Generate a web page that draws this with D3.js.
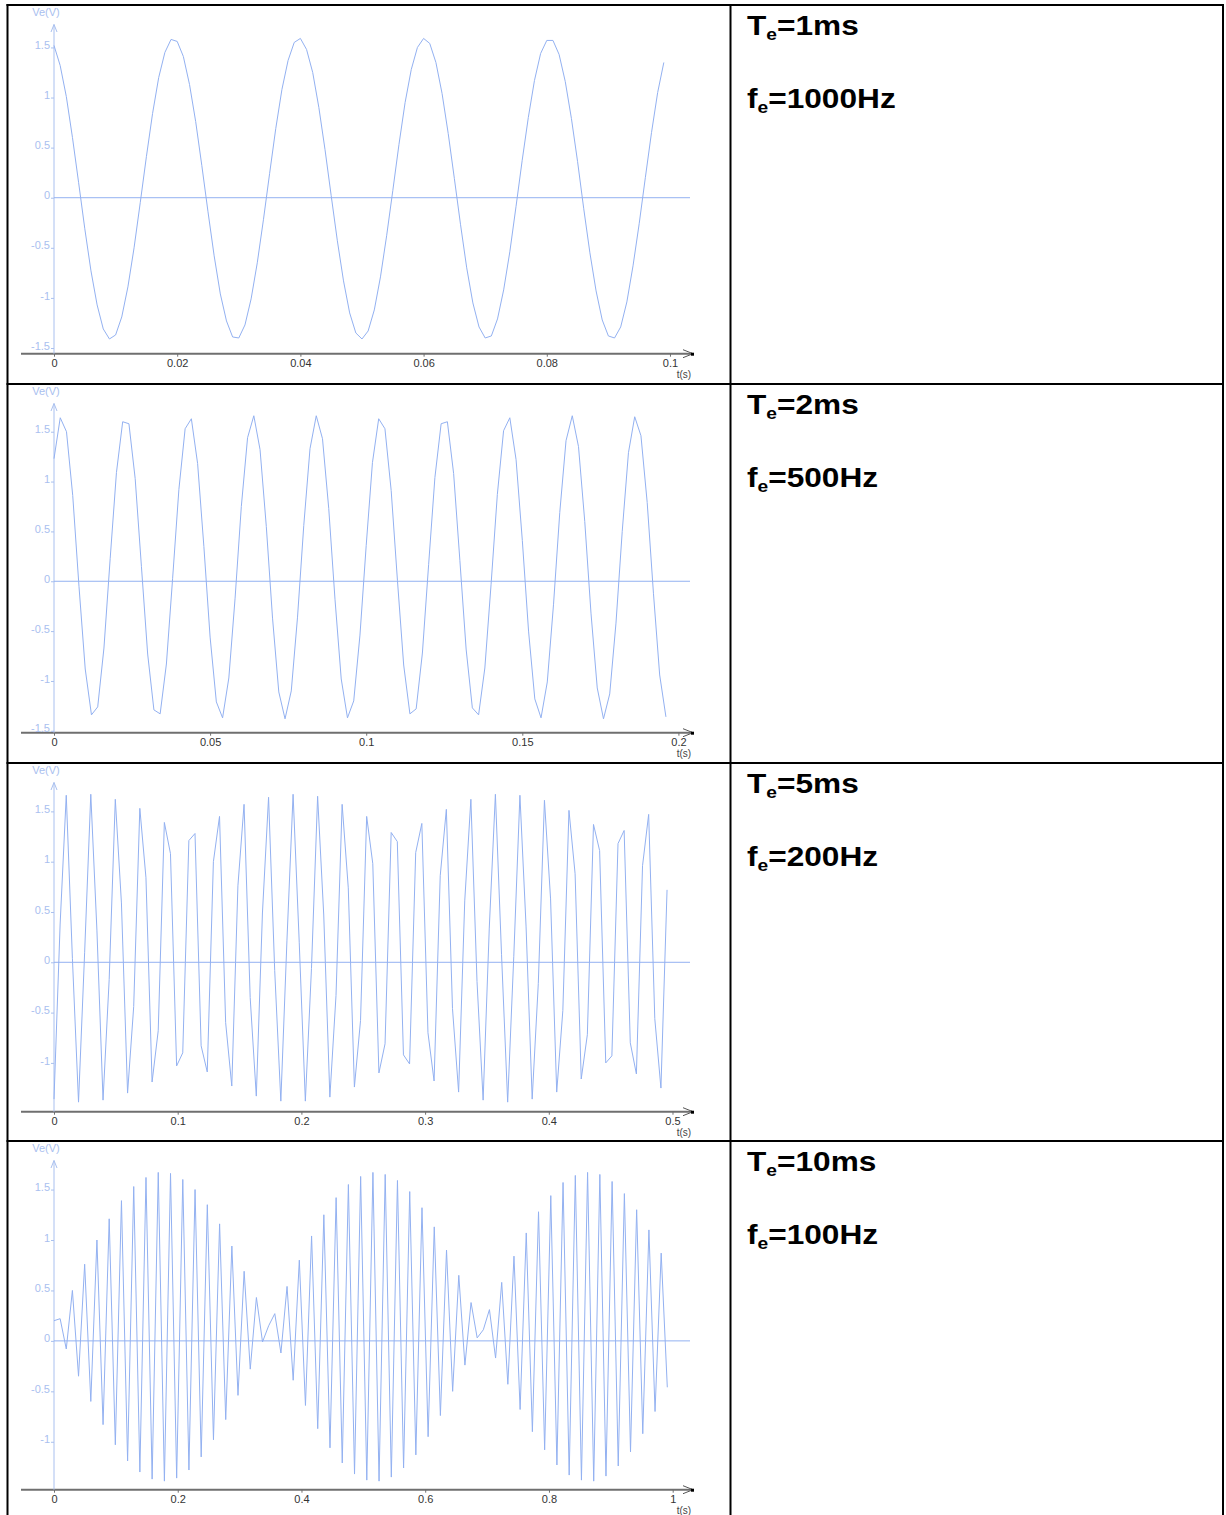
<!DOCTYPE html>
<html>
<head>
<meta charset="utf-8">
<script src="https://cdn.jsdelivr.net/npm/d3@7"></script>
<style>
  html, body { margin: 0; padding: 0; background: #fff; }
  svg { display: block; }
</style>
</head>
<body>
<svg id="main-svg" width="1226" height="1515"></svg>
<script>
// Ve(V) samples, one array per acquisition
var ve1 = [1.52,1.32,1.01,0.60,0.15,-0.31,-0.73,-1.07,-1.31,-1.41,
  -1.37,-1.19,-0.89,-0.50,-0.05,0.41,0.84,1.20,1.45,1.58,
  1.56,1.41,1.13,0.76,0.32,-0.14,-0.58,-0.96,-1.23,-1.39,
  -1.40,-1.27,-1.01,-0.65,-0.22,0.24,0.69,1.08,1.37,1.55,
  1.59,1.48,1.25,0.90,0.48,0.02,-0.43,-0.83,-1.15,-1.35,
  -1.41,-1.33,-1.12,-0.79,-0.38,0.07,0.53,0.95,1.28,1.50,
  1.59,1.54,1.35,1.04,0.64,0.19,-0.27,-0.70,-1.05,-1.29,
  -1.40,-1.38,-1.21,-0.92,-0.54,-0.09,0.37,0.80,1.17,1.44,
  1.57,1.57,1.43,1.16,0.79,0.36,-0.11,-0.55,-0.93,-1.22,
  -1.38,-1.40,-1.29,-1.04,-0.68,-0.26,0.20,0.65,1.05,1.35];

var ve2 = [1.23,1.64,1.50,0.86,-0.05,-0.88,-1.34,-1.26,-0.67,0.23,
  1.09,1.60,1.58,1.03,0.15,-0.73,-1.29,-1.33,-0.83,0.03,
  0.92,1.53,1.63,1.18,0.35,-0.56,-1.21,-1.37,-0.97,-0.17,
  0.75,1.44,1.66,1.32,0.55,-0.37,-1.11,-1.38,-1.10,-0.36,
  0.56,1.33,1.66,1.43,0.73,-0.18,-0.98,-1.37,-1.20,-0.54,
  0.36,1.19,1.63,1.53,0.91,0.01,-0.84,-1.33,-1.28,-0.72,
  0.17,1.04,1.58,1.60,1.08,0.21,-0.68,-1.27,-1.34,-0.87,
  -0.03,0.87,1.51,1.64,1.22,0.41,-0.50,-1.18,-1.37,-1.01,
  -0.23,0.69,1.41,1.66,1.35,0.60,-0.32,-1.07,-1.38,-1.13,
  -0.42,0.50,1.29,1.65,1.46,0.79,-0.12,-0.94,-1.36];

var ve3 = [-1.36,0.38,1.66,0.04,-1.39,0.10,1.67,0.32,-1.37,-0.17,
  1.62,0.59,-1.30,-0.44,1.53,0.84,-1.19,-0.68,1.39,1.08,
  -1.03,-0.90,1.21,1.28,-0.83,-1.09,1.00,1.45,-0.60,-1.23,
  0.76,1.57,-0.35,-1.33,0.49,1.64,-0.08,-1.38,0.22,1.67,
  0.20,-1.38,-0.06,1.65,0.47,-1.34,-0.33,1.57,0.74,-1.24,
  -0.58,1.45,0.98,-1.10,-0.81,1.29,1.20,-0.92,-1.01,1.09,
  1.38,-0.70,-1.18,0.86,1.52,-0.46,-1.29,0.61,1.62,-0.19,
  -1.37,0.34,1.67,0.08,-1.39,0.06,1.66,0.36,-1.36,-0.21,
  1.61,0.63,-1.29,-0.48,1.51,0.88,-1.16,-0.72,1.37,1.11,
  -1.00,-0.93,1.18,1.31,-0.80,-1.11,0.96,1.47,-0.56,-1.25,
  0.72];

var ve4 = [0.20,0.22,-0.08,0.50,-0.35,0.76,-0.60,1.00,-0.83,1.21,
  -1.03,1.39,-1.19,1.53,-1.30,1.62,-1.37,1.67,-1.39,1.66,
  -1.36,1.60,-1.28,1.50,-1.15,1.35,-0.98,1.16,-0.78,0.94,
  -0.54,0.69,-0.28,0.43,-0.01,0.15,0.27,-0.12,0.54,-0.39,
  0.80,-0.64,1.04,-0.87,1.25,-1.06,1.42,-1.21,1.55,-1.32,
  1.63,-1.38,1.67,-1.39,1.65,-1.35,1.59,-1.26,1.48,-1.13,
  1.32,-0.95,1.13,-0.74,0.90,-0.50,0.65,-0.24,0.38,0.03,
  0.11,0.31,-0.17,0.58,-0.43,0.84,-0.68,1.07,-0.90,1.28,
  -1.08,1.44,-1.23,1.57,-1.33,1.64,-1.38,1.67,-1.39,1.65,
  -1.34,1.58,-1.24,1.46,-1.10,1.30,-0.92,1.10,-0.70,0.87,
  -0.46];

var series = [ve1, ve2, ve3, ve4];
// time between two plotted samples, as read on each t axis
var steps = [0.001, 0.002, 0.004956, 0.009913];
// t value at the right end of the zero line
var tEnds = [0.10325, 0.20371, 0.51415, 1.02797];
// V values at the t axis and at the tip of the Ve arrow
var vRanges = [[-1.557, 1.731], [-1.519, 1.785], [-1.485, 1.789], [-1.475, 1.79]];

var tTicks = [[0, 0.02, 0.04, 0.06, 0.08, 0.1],
              [0, 0.05, 0.1, 0.15, 0.2],
              [0, 0.1, 0.2, 0.3, 0.4, 0.5],
              [0, 0.2, 0.4, 0.6, 0.8, 1]];
var vTicks = [[-1.5, -1, -0.5, 0, 0.5, 1, 1.5],
              [-1.5, -1, -0.5, 0, 0.5, 1, 1.5],
              [-1, -0.5, 0, 0.5, 1, 1.5],
              [-1, -0.5, 0, 0.5, 1, 1.5]];

var periods = ["1ms", "2ms", "5ms", "10ms"];
var freqs = ["1000Hz", "500Hz", "200Hz", "100Hz"];

var svg = d3.select("#main-svg");
var rowTops = [5, 384, 763, 1141];
var blue = "#93b1f1";
var paleBlue = "#a9c0ef";
var font = "'Liberation Sans', Arial, sans-serif";

// table frame
var frame = svg.append("g").attr("stroke", "#000").attr("stroke-width", 2);
frame.append("line").attr("x1", 6.5).attr("x2", 1224).attr("y1", 5).attr("y2", 5);
rowTops.slice(1).forEach(function(y){
  frame.append("line").attr("x1", 6.5).attr("x2", 1224).attr("y1", y).attr("y2", y);
});
frame.append("line").attr("x1", 7.5).attr("x2", 7.5).attr("y1", 4).attr("y2", 1515);
frame.append("line").attr("x1", 730.5).attr("x2", 730.5).attr("y1", 4).attr("y2", 1515);
frame.append("line").attr("x1", 1223).attr("x2", 1223).attr("y1", 4).attr("y2", 1515);

series.forEach(function(ve, i){ drawPanel(i, ve); });

function drawPanel(i, ve) {
  var top = rowTops[i];
  var g = svg.append("g").attr("font-family", font);

  var x = d3.scaleLinear().domain([0, tEnds[i]]).range([54, 690]);
  var y = d3.scaleLinear().domain(vRanges[i]).range([top + 348.7, top + 19.3]);
  var y0 = y(vRanges[i][0]);

  // t axis
  g.append("line")
    .attr("x1", 21).attr("x2", 692)
    .attr("y1", y0).attr("y2", y0)
    .attr("stroke", "#6f6f6f").attr("stroke-width", 2);
  g.append("path")
    .attr("d", "M683," + (y0 - 4) + "L693," + y0 + "L683," + (y0 + 4))
    .attr("fill", "none").attr("stroke", "#555").attr("stroke-width", 1);
  g.append("rect").attr("x", 691).attr("y", y0 - 1).attr("width", 3).attr("height", 3).attr("fill", "#000");

  var xAxis = g.append("g")
    .attr("transform", "translate(0," + y0 + ")")
    .call(d3.axisBottom(x).tickValues(tTicks[i]).tickSize(3).tickPadding(3)
      .tickFormat(function(d){ return String(d); }));
  xAxis.select(".domain").remove();
  xAxis.selectAll("line").attr("stroke", "#6f6f6f");
  xAxis.selectAll("text").attr("fill", "#333").attr("font-size", 11).attr("font-family", font);

  g.append("text")
    .attr("x", 684).attr("y", top + 373)
    .attr("text-anchor", "middle")
    .attr("font-size", 10).attr("fill", "#444")
    .text("t(s)");

  // Ve axis
  g.append("line")
    .attr("x1", 54).attr("x2", 54)
    .attr("y1", y0).attr("y2", top + 19.5)
    .attr("stroke", paleBlue).attr("stroke-width", 1);
  g.append("path")
    .attr("d", "M51," + (top + 27) + "L54," + (top + 19.5) + "L57," + (top + 27))
    .attr("fill", "none").attr("stroke", paleBlue).attr("stroke-width", 1);

  var yAxis = g.append("g")
    .attr("transform", "translate(54,0)")
    .call(d3.axisLeft(y).tickValues(vTicks[i]).tickSize(3).tickPadding(1)
      .tickFormat(function(d){ return String(d); }));
  yAxis.select(".domain").remove();
  yAxis.selectAll("line").attr("stroke", paleBlue);
  yAxis.selectAll("text").attr("fill", paleBlue).attr("font-size", 11)
    .attr("font-family", font).attr("dy", "0.1em");

  g.append("text")
    .attr("x", 46).attr("y", top + 11)
    .attr("text-anchor", "middle")
    .attr("font-size", 11).attr("fill", paleBlue)
    .text("Ve(V)");

  // zero line
  g.append("line")
    .attr("x1", 54).attr("x2", 690)
    .attr("y1", y(0)).attr("y2", y(0))
    .attr("stroke", blue).attr("stroke-width", 1);

  // sampled signal
  var line = d3.line()
    .x(function(d, n){ return x(n * steps[i]); })
    .y(function(d){ return y(d); });
  g.append("path")
    .datum(ve)
    .attr("d", line)
    .attr("fill", "none")
    .attr("stroke", blue)
    .attr("stroke-width", 1);

  // sampling period / frequency
  var txt = svg.append("g")
    .attr("font-family", font).attr("font-weight", "bold").attr("fill", "#000")
    .attr("transform", "translate(747,0) scale(1.13,1) translate(-747,0)");
  var t1 = txt.append("text").attr("x", 747).attr("y", top + 30).attr("font-size", 28);
  t1.append("tspan").text("T");
  t1.append("tspan").attr("font-size", 17).attr("dy", 5).text("e");
  t1.append("tspan").attr("dy", -5).text("=" + periods[i]);
  var t2 = txt.append("text").attr("x", 747).attr("y", top + 103).attr("font-size", 28);
  t2.append("tspan").text("f");
  t2.append("tspan").attr("font-size", 17).attr("dy", 5).text("e");
  t2.append("tspan").attr("dy", -5).text("=" + freqs[i]);
}
</script>
</body>
</html>
